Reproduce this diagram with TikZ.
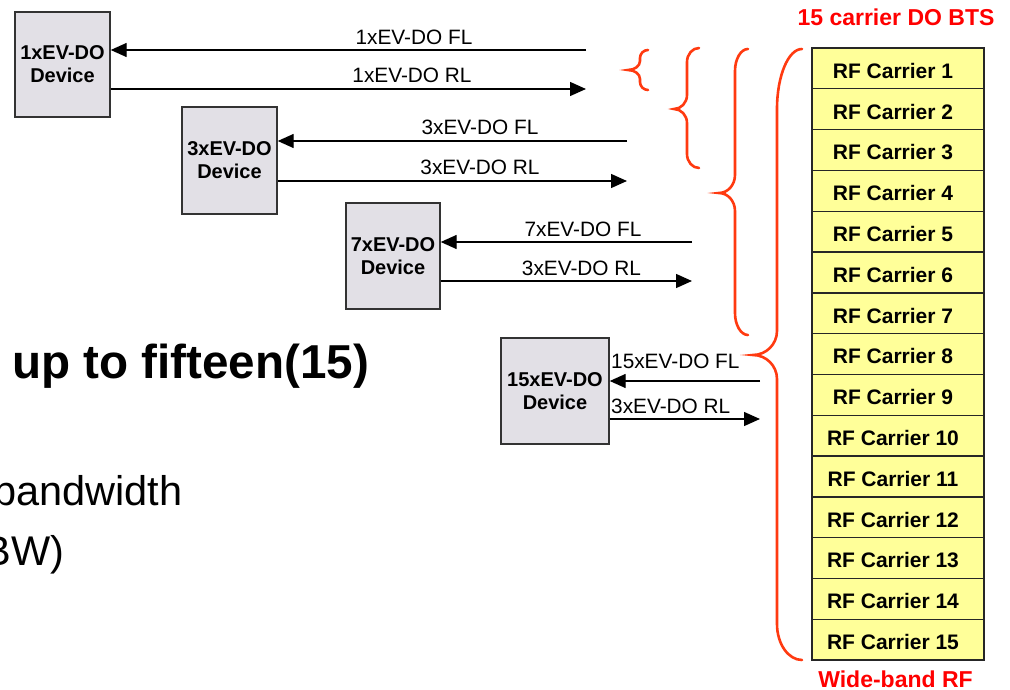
\documentclass[tikz,border=0pt]{standalone}
\usepackage{fontspec}
\setmainfont{Liberation Sans}
\usetikzlibrary{arrows.meta}
\definecolor{devfill}{HTML}{E2E0E6}
\definecolor{carfill}{HTML}{FFFF99}
\definecolor{brc}{HTML}{FF3A10}
\definecolor{redtxt}{HTML}{FF0000}
\newcommand{\drawbrace}[9]{%
 \draw[bracestyle] (#1,#4) .. controls ({#1-0.55*(#1-#2)},#4) and (#2,{#4+0.45*#7}) .. (#2,{#4+#7})
 -- (#2,{#5-#8}) .. controls (#2,{#5-0.45*#8}) and ({#3+0.55*(#2-#3)},#5) .. (#3,#5)
 .. controls ({#3+0.55*(#2-#3)},#5) and (#2,{#5+0.45*#8}) .. (#2,{#5+#8})
 -- (#2,{#6-#9}) .. controls (#2,{#6-0.45*#9}) and ({#1-0.55*(#1-#2)},#6) .. (#1,#6);}
\tikzset{
 device/.style={draw=black!80, line width=1.4pt, fill=devfill, inner sep=0pt, align=center, font=\fontsize{20}{23}\selectfont\bfseries},
 carrier/.style={draw=black!85, line width=1.4pt, fill=carfill, minimum width=172pt, minimum height=40.8pt, inner sep=0pt},
 ctext/.style={font=\fontsize{21}{24}\selectfont\bfseries, inner sep=0pt},
 lbl/.style={font=\fontsize{20.8}{24}\selectfont, inner sep=0pt, anchor=base},
 link/.style={line width=1.4pt, -{Triangle[length=16pt,width=14pt]}},
 bracestyle/.style={draw=brc, line width=2.6pt, line cap=round},
 redlbl/.style={text=redtxt, font=\fontsize{23}{26}\selectfont\bfseries, inner sep=0pt, anchor=base},
 bigtxt/.style={inner sep=0pt},
}
\begin{document}
\begin{tikzpicture}[x=1pt,y=-1pt]
\useasboundingbox (0,0) rectangle (1010,690);
\fill[white] (0,0) rectangle (1010,690);
\clip (0,0) rectangle (1010,690);

% left text
\node[bigtxt, anchor=base west, font=\fontsize{47.6}{50}\selectfont\bfseries] (t1) at (12,378) {up to fifteen(15)};
\node[bigtxt, anchor=base west, font=\fontsize{41.5}{45}\selectfont] (t2) at (-7,505) {bandwidth};
\node[bigtxt, anchor=base east, font=\fontsize{41.5}{45}\selectfont] (t3) at (64.5,565) {BW)};

% devices
\node[device, minimum width=95pt, minimum height=105pt] (d1) at (62.5,64.5) {1xEV-DO\\Device};
\node[device, minimum width=95pt, minimum height=107pt] (d2) at (229.5,160.5) {3xEV-DO\\Device};
\node[device, minimum width=94pt, minimum height=106pt] (d3) at (393,256) {7xEV-DO\\Device};
\node[device, minimum width=108pt, minimum height=106pt] (d4) at (555,391) {15xEV-DO\\Device};

% free ends
\coordinate (f1) at (586,50);  \coordinate (r1) at (586,89);
\coordinate (f2) at (627,141); \coordinate (r2) at (627,181);
\coordinate (f3) at (692,242); \coordinate (r3) at (692,281);
\coordinate (f4) at (760,381); \coordinate (r4) at (760,419);

\draw[link] (f1) -- (f1 -| d1.east);
\draw[link] (r1 -| d1.east) -- (r1);
\draw[link] (f2) -- (f2 -| d2.east);
\draw[link] (r2 -| d2.east) -- (r2);
\draw[link] (f3) -- (f3 -| d3.east);
\draw[link] (r3 -| d3.east) -- (r3);
\draw[link] (f4) -- (f4 -| d4.east);
\draw[link] (r4 -| d4.east) -- (r4);

% link labels
\node[lbl] (l1f) at (414,45) {1xEV-DO FL};
\node[lbl] (l1r) at (412,83) {1xEV-DO RL};
\node[lbl] (l2f) at (480,135) {3xEV-DO FL};
\node[lbl] (l2r) at (480,175) {3xEV-DO RL};
\node[lbl] (l3f) at (583,236.5) {7xEV-DO FL};
\node[lbl] (l3r) at (581.5,275) {3xEV-DO RL};
\node[lbl, anchor=base west] (l4f) at (611,368) {15xEV-DO FL};
\node[lbl, anchor=base west] (l4r) at (611,413) {3xEV-DO RL};

% carriers
\foreach \i in {1,...,15}{
  \node[carrier] (c\i) at (898,{48+40.8*(\i-0.5)}) {};
  \node[ctext] (ct\i) at ([xshift=-5pt,yshift=-2.4pt]c\i.center) {RF Carrier \i};
}
\node[redlbl] (bts) at (896,26) {15 carrier DO BTS};
\node[redlbl] (wb) at (895.5,687) {Wide-band RF};

% braces: R, V, T, top, tip, bottom, ctop, ctip, cbot
\drawbrace{648}{640}{628}{50}{70}{90}{8}{9}{8}
\drawbrace{699}{687}{674}{48}{109}{168}{14}{14}{14}
\drawbrace{748}{735}{719}{49}{193}{335}{22}{18}{22}
\drawbrace{802}{777}{753}{49}{355}{660}{60}{24}{36}
\end{tikzpicture}
\end{document}
